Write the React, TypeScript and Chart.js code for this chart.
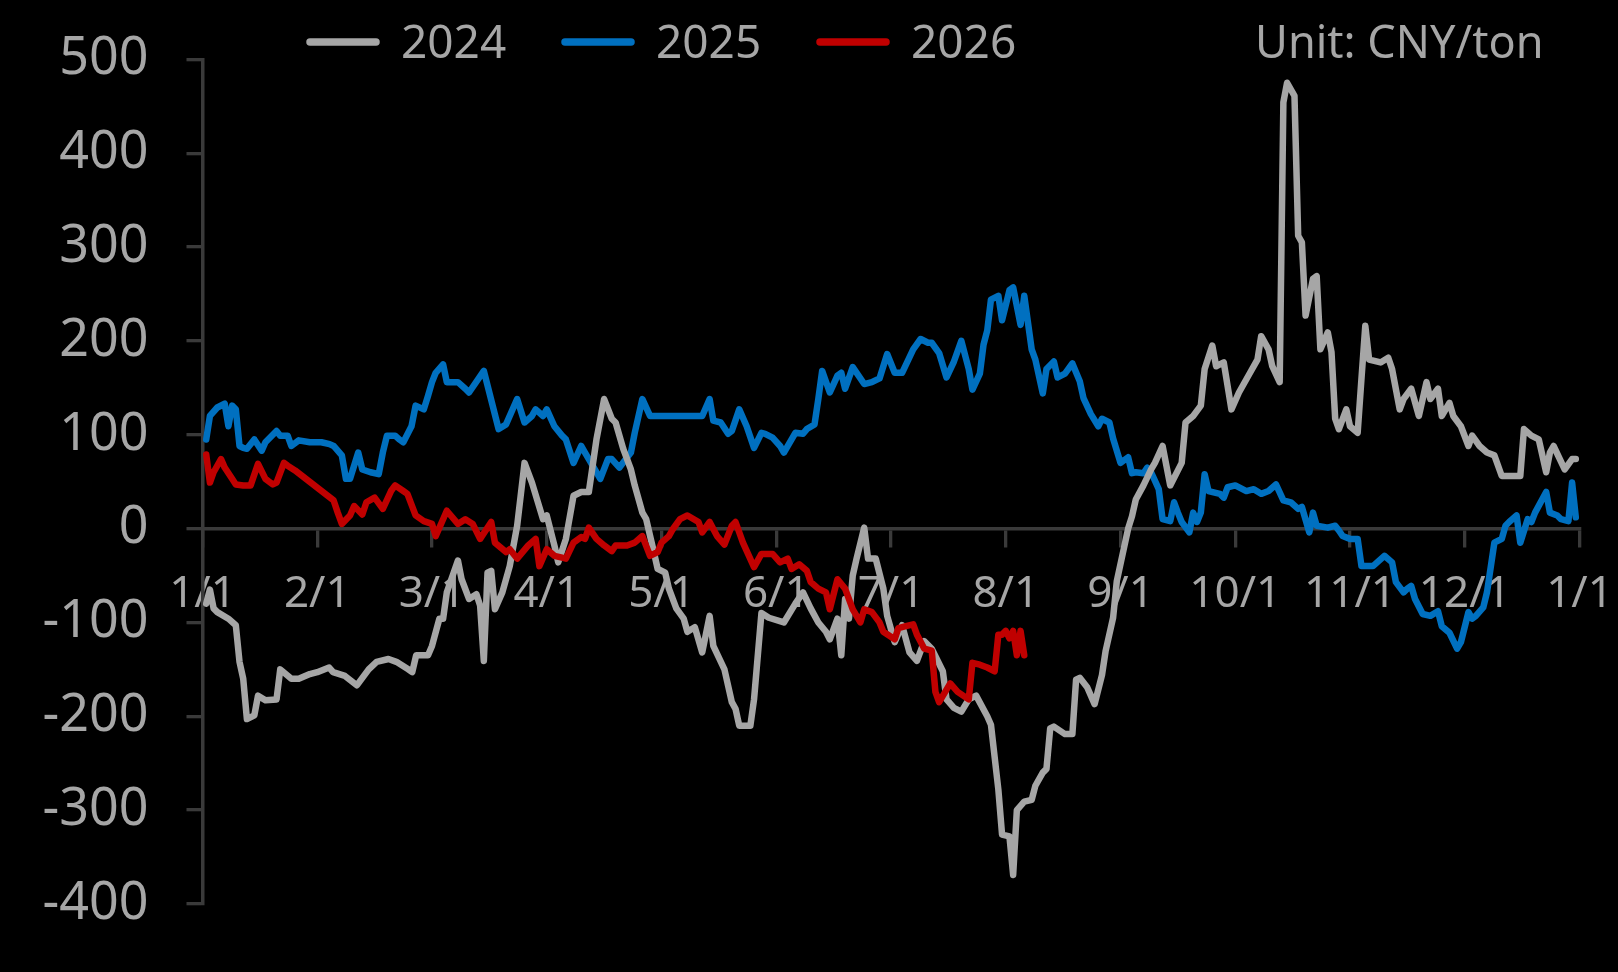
import React, { useEffect, useRef } from "react";
import { Chart, registerables } from "chart.js";

Chart.register(...registerables);

// ---------- data ----------
const tickLabels = ["1/1", "2/1", "3/1", "4/1", "5/1", "6/1", "7/1", "8/1", "9/1", "10/1", "11/1", "12/1", "1/1"];
const seriesNames = ["2024", "2025", "2026"];
const seriesYears = [2024, 2025, 2026];
const unitText = "Unit: CNY/ton";

const dates2024 = [
  "1/2", "1/3", "1/4", "1/5", "1/8", "1/10", "1/11", "1/12", "1/13", "1/15", "1/16", "1/18", "1/21", "1/22", "1/25", "1/27", "1/30",
  "2/1", "2/4", "2/5", "2/8", "2/11", "2/14", "2/16", "2/19", "2/21", "2/24", "2/25", "2/26", "2/29",
  "3/1", "3/3", "3/4", "3/5", "3/8", "3/9", "3/11", "3/13", "3/14", "3/15", "3/16", "3/17", "3/18", "3/20", "3/22", "3/24", "3/26", "3/28", "3/31",
  "4/1", "4/3", "4/4", "4/6", "4/8", "4/10", "4/12", "4/14", "4/16", "4/18", "4/19", "4/21", "4/23", "4/24", "4/26", "4/27", "4/29", "4/30",
  "5/2", "5/3", "5/5", "5/7", "5/8", "5/10", "5/12", "5/14", "5/15", "5/18", "5/20", "5/21", "5/22", "5/25", "5/26", "5/28", "5/30",
  "6/3", "6/6", "6/8", "6/10", "6/12", "6/14", "6/15", "6/17", "6/18", "6/19", "6/20", "6/21", "6/22", "6/24", "6/25", "6/27", "6/29", "6/30",
  "7/2", "7/4", "7/6", "7/8", "7/10", "7/12", "7/15", "7/16", "7/18", "7/20", "7/22", "7/24", "7/27", "7/28", "7/30", "7/31",
  "8/2", "8/3", "8/4", "8/6", "8/8", "8/9", "8/11", "8/12", "8/13", "8/14", "8/17", "8/19", "8/20", "8/21", "8/23", "8/25", "8/27", "8/28", "8/30", "8/31",
  "9/3", "9/4", "9/5", "9/7", "9/9", "9/10", "9/12", "9/14", "9/17", "9/18", "9/20", "9/22", "9/23", "9/25", "9/26", "9/28", "9/30",
  "10/2", "10/5", "10/7", "10/8", "10/10", "10/11", "10/13", "10/14", "10/15", "10/17", "10/18", "10/19", "10/20", "10/22", "10/23", "10/24", "10/26", "10/27", "10/28", "10/29", "10/31",
  "11/1", "11/3", "11/4", "11/5", "11/6", "11/9", "11/11", "11/12", "11/14", "11/15", "11/17", "11/19", "11/21", "11/22", "11/24", "11/25", "11/27", "11/28", "11/30",
  "12/2", "12/3", "12/5", "12/7", "12/9", "12/11", "12/16", "12/17", "12/19", "12/21", "12/23", "12/24", "12/25", "12/28", "12/30", "12/31",
];
const values2024 = [
  -80, -65, -85, -89, -96, -103, -142, -160, -203, -199, -178, -183, -182, -150, -160, -160, -155,
  -153, -148, -153, -157, -167, -150, -142, -139, -142, -150, -153, -135, -135,
  -125, -96, -96, -68, -34, -54, -75, -70, -82, -141, -47, -45, -86, -68, -40, 3, 70, 49, 10,
  14, -18, -36, -11, 35, 39, 39, 95, 138, 117, 113, 85, 63, 46, 17, 10, -25, -43,
  -47, -64, -85, -96, -110, -105, -132, -93, -125, -150, -185, -192, -210, -210, -182, -90, -95,
  -100, -80, -68, -85, -100, -110, -118, -96, -135, -75, -96, -50, -32, 1, -32, -32, -64, -93,
  -121, -103, -132, -141, -120, -128, -152, -182, -191, -195, -182, -178, -200, -209, -278, -326,
  -328, -369, -300, -291, -289, -274, -260, -256, -213, -211, -219, -219, -161, -159, -169, -187, -156, -130, -95, -56,
  0, 13, 31, 46, 63, 70, 88, 46, 70, 113, 120, 131, 170, 195, 173, 177, 127,
  145, 166, 180, 205, 191, 173, 156, 454, 475, 461, 312, 305, 227, 266, 269, 191, 209, 188, 117, 106, 127,
  109, 102, 160, 216, 180, 177, 182, 170, 127, 138, 149, 120, 156, 138, 149, 120, 134, 120, 109,
  88, 99, 88, 81, 78, 56, 56, 106, 99, 95, 60, 81, 88, 63, 74, 74,
];

const dates2025 = [
  "1/2", "1/3", "1/5", "1/7", "1/8", "1/9", "1/10", "1/11", "1/12", "1/13", "1/15", "1/17", "1/18", "1/21", "1/22", "1/24", "1/25", "1/27", "1/30",
  "2/2", "2/4", "2/5", "2/7", "2/8", "2/9", "2/11", "2/12", "2/14", "2/16", "2/17", "2/18", "2/20", "2/21", "2/22", "2/24", "2/25", "2/27", "2/28",
  "3/1", "3/2", "3/4", "3/5", "3/8", "3/10", "3/11", "3/15", "3/19", "3/21", "3/24", "3/26", "3/28", "3/29", "3/31",
  "4/1", "4/3", "4/5", "4/6", "4/8", "4/10", "4/11", "4/13", "4/15", "4/17", "4/18", "4/20", "4/23", "4/24", "4/26", "4/28",
  "5/2", "5/6", "5/12", "5/14", "5/15", "5/17", "5/19", "5/20", "5/22", "5/24", "5/26", "5/28", "5/29", "5/31",
  "6/2", "6/3", "6/6", "6/8", "6/9", "6/11", "6/12", "6/13", "6/15", "6/17", "6/18", "6/19", "6/21", "6/24", "6/26", "6/28", "6/30",
  "7/2", "7/4", "7/7", "7/9", "7/11", "7/12", "7/14", "7/16", "7/18", "7/20", "7/22", "7/23", "7/25", "7/26", "7/27", "7/28", "7/30", "7/31",
  "8/2", "8/3", "8/5", "8/6", "8/8", "8/9", "8/11", "8/12", "8/14", "8/15", "8/17", "8/19", "8/21", "8/22", "8/24", "8/26", "8/27", "8/29", "8/30",
  "9/1", "9/3", "9/4", "9/5", "9/7", "9/8", "9/9", "9/11", "9/12", "9/14", "9/15", "9/16", "9/17", "9/19", "9/20", "9/21", "9/22", "9/23", "9/24", "9/27", "9/28", "9/29",
  "10/1", "10/4", "10/6", "10/8", "10/10", "10/12", "10/14", "10/16", "10/18", "10/19", "10/21", "10/22", "10/23", "10/26", "10/28", "10/29", "10/30",
  "11/1", "11/3", "11/4", "11/7", "11/10", "11/12", "11/13", "11/15", "11/16", "11/17", "11/18", "11/20", "11/22", "11/24", "11/25", "11/27", "11/29", "11/30",
  "12/2", "12/3", "12/4", "12/6", "12/7", "12/9", "12/11", "12/12", "12/13", "12/15", "12/16", "12/18", "12/19", "12/20", "12/23", "12/24", "12/26", "12/27", "12/29", "12/30", "12/31",
];
const values2025 = [
  95, 120, 129, 133, 109, 131, 127, 88, 86, 85, 95, 83, 92, 104, 99, 99, 88, 94, 92,
  92, 90, 88, 78, 53, 53, 81, 63, 60, 58, 81, 99, 99, 95, 92, 109, 131, 127, 141,
  156, 166, 175, 156, 156, 149, 145, 168, 106, 111, 138, 113, 120, 127, 120,
  127, 109, 99, 95, 70, 88, 81, 67, 53, 74, 74, 65, 81, 102, 138, 120,
  120, 120, 120, 138, 115, 113, 101, 104, 127, 109, 86, 102, 101, 97,
  88, 81, 102, 101, 106, 111, 138, 168, 145, 163, 166, 149, 172, 154, 156, 160, 186,
  166, 166, 191, 202, 198, 198, 187, 161, 178, 200, 170, 148, 165, 196, 211, 244, 248, 222,
  254, 257, 217, 248, 191, 180, 144, 170, 178, 161, 165, 176, 157, 139, 122, 109, 117, 113, 96,
  70, 76, 59, 60, 59, 65, 60, 42, 10, 8, 28, 17, 7, -4, 17, 7, 17, 58, 40, 37, 33, 44,
  46, 40, 42, 37, 40, 47, 30, 28, 21, 23, -4, 17, 3, 1, 3, -2, -8,
  -11, -11, -40, -40, -29, -36, -57, -68, -64, -61, -75, -91, -93, -88, -104, -111, -128, -121,
  -89, -96, -93, -84, -68, -15, -11, 3, 7, 14, -15, 10, 7, 17, 39, 17, 14, 10, 8, 49, 12,
];

const dates2026 = [
  "1/2", "1/3", "1/4", "1/6", "1/7", "1/9", "1/10", "1/12", "1/14", "1/16", "1/18", "1/20", "1/21", "1/23", "1/24", "1/26",
  "2/5", "2/6", "2/7", "2/9", "2/10", "2/12", "2/13", "2/15", "2/17", "2/19", "2/20", "2/22", "2/23", "2/25", "2/27",
  "3/1", "3/2", "3/4", "3/5", "3/8", "3/10", "3/12", "3/14", "3/17", "3/18", "3/21", "3/22", "3/24", "3/27", "3/29", "3/30",
  "4/1", "4/3", "4/5", "4/6", "4/8", "4/10", "4/11", "4/12", "4/14", "4/16", "4/18", "4/19", "4/22", "4/24", "4/26", "4/28", "4/30",
  "5/1", "5/3", "5/4", "5/6", "5/8", "5/11", "5/12", "5/14", "5/16", "5/18", "5/20", "5/21", "5/23", "5/26", "5/28", "5/31",
  "6/2", "6/4", "6/5", "6/7", "6/9", "6/10", "6/12", "6/14", "6/15", "6/17", "6/19", "6/21", "6/23", "6/24", "6/26", "6/28", "6/29",
  "7/2", "7/3", "7/5", "7/7", "7/8", "7/10", "7/12", "7/13", "7/14", "7/17", "7/19", "7/22", "7/23", "7/25", "7/27", "7/29", "7/30", "7/31",
  "8/1", "8/2", "8/3", "8/4", "8/5", "8/6",
];
const values2026 = [
  79, 49, 60, 74, 65, 53, 47, 46, 46, 69, 53, 47, 49, 70, 67, 62,
  30, 17, 5, 14, 24, 15, 28, 33, 21, 40, 46, 40, 37, 14, 8,
  5, -8, 10, 19, 5, 10, 5, -11, 7, -15, -25, -22, -32, -18, -11, -40,
  -22, -29, -31, -32, -15, -9, -11, 1, -11, -18, -24, -18, -18, -15, -8, -29, -25,
  -15, -8, -1, 10, 14, 7, -4, 7, -8, -17, 3, 7, -15, -41, -27, -27,
  -36, -32, -43, -38, -45, -57, -64, -68, -86, -54, -64, -86, -100, -86, -89, -100, -110,
  -118, -106, -104, -102, -113, -128, -130, -174, -185, -165, -174, -182, -143, -145, -148, -152, -113, -113,
  -109, -117, -109, -135, -109, -135,
];

// ---------- style ----------
const COLORS = ["#a6a6a6", "#0070c0", "#c00000"];
const TEXT_COLOR = "#a6a6a6";
const AXIS_COLOR = "#3a3a3a";
const FONT = "'Noto Sans', 'DejaVu Sans', sans-serif";

function monthPos(date: string, year: number): number {
  const [m, d] = date.split("/").map(Number);
  const dim = new Date(year, m, 0).getDate();
  return m - 1 + (d - 1) / dim;
}

function toPoints(dates: string[], values: number[], year: number) {
  return dates.map((d, i) => ({ x: monthPos(d, year), y: values[i] }));
}

const legendPlugin = {
  id: "customLegendUnit",
  afterDraw(chart: any) {
    const ctx: CanvasRenderingContext2D = chart.ctx;
    ctx.save();
    const startX = 306;
    const step = 255;
    const lineLen = 74;
    const lineY = 42;
    ctx.textBaseline = "alphabetic";
    ctx.textAlign = "left";
    seriesNames.forEach((name, i) => {
      const x0 = startX + i * step;
      ctx.strokeStyle = COLORS[i];
      ctx.lineWidth = 7.5;
      ctx.lineCap = "round";
      ctx.beginPath();
      ctx.moveTo(x0 + 4, lineY);
      ctx.lineTo(x0 + lineLen - 4, lineY);
      ctx.stroke();
      ctx.font = `46px ${FONT}`;
      ctx.fillStyle = TEXT_COLOR;
      ctx.fillText(name, x0 + 95, 58);
    });
    ctx.font = `45px ${FONT}`;
    ctx.fillStyle = TEXT_COLOR;
    ctx.fillText(unitText, 1255, 58);
    ctx.restore();
  },
};

export default function App() {
  const canvasRef = useRef<HTMLCanvasElement | null>(null);

  useEffect(() => {
    if (!canvasRef.current) return;
    Chart.defaults.font.family = FONT;
    const datasets = seriesNames.map((name, i) => {
      const dates = [dates2024, dates2025, dates2026][i];
      const values = [values2024, values2025, values2026][i];
      return {
        label: name,
        data: toPoints(dates, values, seriesYears[i]),
        borderColor: COLORS[i],
        backgroundColor: COLORS[i],
        borderWidth: 6.5,
        pointRadius: 0,
        tension: 0,
        borderJoinStyle: "round" as const,
        borderCapStyle: "round" as const,
        order: [1, 2, 0][i],
      };
    });

    const chart = new Chart(canvasRef.current, {
      type: "line",
      data: { datasets },
      options: {
        animation: false,
        responsive: true,
        maintainAspectRatio: false,
        layout: { padding: { top: 59.3, bottom: 68, left: 0, right: 38.5 } },
        plugins: {
          legend: { display: false },
          tooltip: { enabled: false },
        },
        scales: {
          x: {
            type: "linear",
            min: 0,
            max: 12,
            position: { y: 0 } as any,
            ticks: {
              stepSize: 1,
              autoSkip: false,
              maxRotation: 0,
              minRotation: 0,
              color: TEXT_COLOR,
              font: { size: 44 },
              padding: 22,
              callback: (_v: any, index: number) => tickLabels[index],
            },
            grid: {
              drawOnChartArea: false,
              drawTicks: true,
              tickLength: 17,
              color: AXIS_COLOR,
              lineWidth: 3.3,
            },
            border: { display: true, color: AXIS_COLOR, width: 3.5 },
            afterFit: (s: any) => {
              s.paddingLeft = 0;
              s.paddingRight = 0;
              s.paddingTop = 0;
              s.paddingBottom = 0;
            },
          },
          y: {
            type: "linear",
            min: -400,
            max: 500,
            ticks: {
              stepSize: 100,
              color: TEXT_COLOR,
              font: { size: 52 },
              padding: 38,
            },
            grid: {
              drawOnChartArea: false,
              drawTicks: true,
              tickLength: 16,
              color: AXIS_COLOR,
              lineWidth: 3.3,
            },
            border: { display: true, color: AXIS_COLOR, width: 3.5 },
            afterFit: (s: any) => {
              s.width = 202.5;
              s.paddingTop = 0;
              s.paddingBottom = 0;
              s.paddingLeft = 0;
              s.paddingRight = 0;
            },
          },
        },
      },
      plugins: [legendPlugin],
    });
    return () => chart.destroy();
  }, []);

  return (
    <div style={{ position: "fixed", left: 0, top: 0, width: 1618, height: 972, background: "#000" }}>
      <canvas ref={canvasRef} />
    </div>
  );
}
